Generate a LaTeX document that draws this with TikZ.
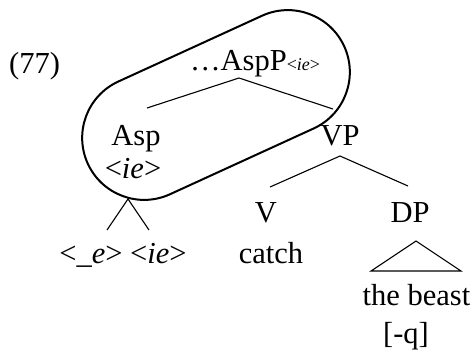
\documentclass[tikz,border=0pt]{standalone}
\usepackage{fontspec}
\setmainfont{Liberation Serif}
\tikzset{
  lbl/.style={inner sep=0pt, anchor=base, font=\fontsize{30.5}{33}\selectfont},
  branch/.style={line width=1.1pt},
  ring/.style={draw, line width=2pt, rounded corners=62pt, minimum width=282pt, minimum height=124pt, inner sep=0pt}
}
\begin{document}
\begin{tikzpicture}[x=1pt,y=1pt]
\useasboundingbox (0,0) rectangle (474,-354);
\node[lbl, anchor=base west] (ex) at (9,-73) {(77)};
\node[lbl, anchor=base west] (aspp) at (190,-70) {\ldots AspP{\fontsize{18}{18}\selectfont<\textit{ie}>}};
\node[lbl] (asp) at (136,-145) {Asp};
\node[lbl] (aspie) at (133,-178) {<\textit{ie}>};
\node[lbl] (vp) at (340,-145) {VP};
\node[lbl] (v) at (266,-222) {V};
\node[lbl] (dp) at (410,-222) {DP};
\node[lbl] (feats) at (123,-263) {<\_\textit{e}> <\textit{ie}>};
\node[lbl] (catch) at (271,-263) {catch};
\node[lbl] (beast) at (416.5,-305) {the beast};
\node[lbl] (q) at (406,-343) {[-q]};
% tree coordinates
\coordinate (a0) at (239,-78);
\coordinate (a1) at (147,-108);
\coordinate (a2) at (333,-109);
\coordinate (v0) at (340,-156);
\coordinate (v1) at (270,-187);
\coordinate (v2) at (408,-186);
\coordinate (s0) at (128,-199);
\coordinate (s1) at (107,-230);
\coordinate (s2) at (149,-230);
\coordinate (t0) at (416,-241);
\coordinate (t1) at (371,-271);
\coordinate (t2) at (461,-271);
\draw[branch] (a1) -- (a0) -- (a2);
\draw[branch] (v1) -- (v0) -- (v2);
\draw[branch] (s1) -- (s0) -- (s2);
\draw[branch] (t0) -- (t1) -- (t2) -- cycle;
\node[ring, rotate=24.6] (oval) at (216,-105) {};
\end{tikzpicture}
\end{document}
